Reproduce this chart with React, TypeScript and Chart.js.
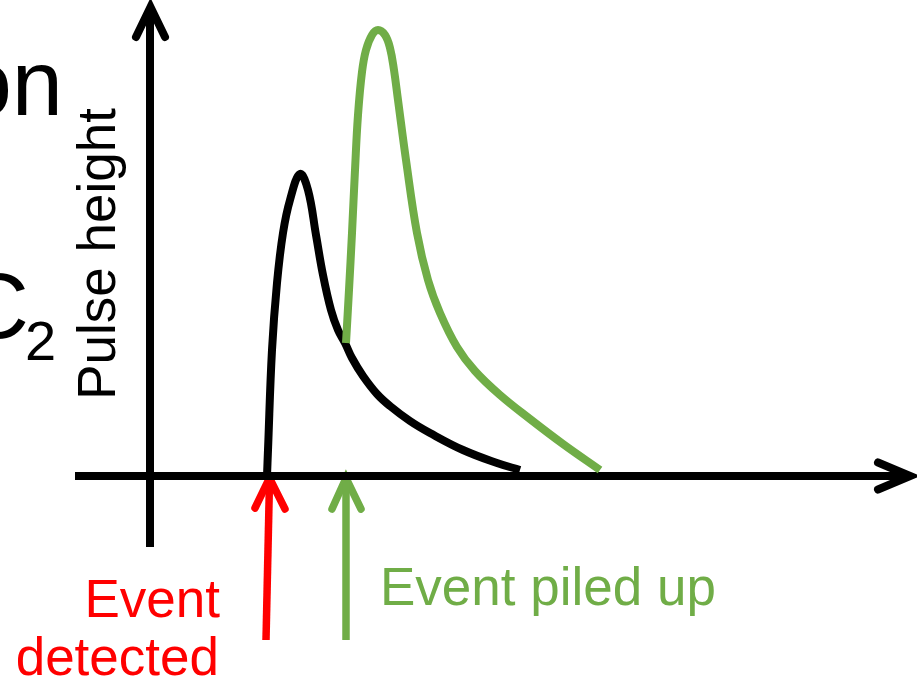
import React, { useEffect, useRef } from "react";
import { Chart, registerables } from "chart.js";

Chart.register(...registerables);

// Time (arbitrary units, origin at the vertical axis) and pulse height values
const blackT = [11.7, 11.8, 12.2, 12.7, 13.3, 14.0, 15.0, 15.8, 16.6, 17.3, 18.1, 18.8, 19.5, 20.2, 21.3, 22.7, 24.0, 26.0, 28.0, 31.3, 34.7, 37.0];
const blackH = [0, 2.6, 12.6, 19.3, 24.3, 27.6, 30.2, 28.6, 24.1, 20.1, 16.6, 14.6, 13.3, 11.8, 10.0, 8.2, 7.0, 5.5, 4.3, 2.6, 1.3, 0.6];

const greenT = [19.6, 19.9, 20.2, 20.5, 20.8, 21.2, 21.6, 22.2, 22.8, 23.5, 24.0, 24.4, 24.8, 25.6, 26.7, 27.8, 29.0, 30.7, 32.5, 35.0, 38.0, 41.3, 45.0];
const greenH = [13.3, 18.6, 24.3, 30.6, 36.1, 40.4, 42.6, 44.1, 44.6, 44.1, 42.8, 40.6, 37.6, 31.6, 24.3, 19.6, 16.3, 12.9, 10.5, 8.1, 5.7, 3.2, 0.6];

// Axes (shaft + arrowhead)
const xAxisT = [-7.5, 75.5];
const xAxisH = [0, 0];
const xHeadT = [72.8, 76.0, 72.8];
const xHeadH = [1.35, 0, -1.35];
const yAxisT = [0, 0];
const yAxisH = [-7.1, 46.5];
const yHeadT = [-1.4, 0.05, 1.5];
const yHeadH = [43.9, 46.9, 43.9];

// Event markers (arrows below the time axis)
const redShaftT = [11.6, 11.95];
const redShaftH = [-16.4, -0.5];
const redHeadT = [10.5, 11.95, 13.5];
const redHeadH = [-3.2, -0.2, -3.3];
const greenShaftT = [19.6, 19.6];
const greenShaftH = [-16.4, -0.5];
const greenHeadT = [18.2, 19.6, 21.1];
const greenHeadH = [-3.3, -0.2, -3.3];

const xMin = -15;
const xMax = 76.7;
const yMin = -21.1;
const yMax = 47.6;

const BLACK = "#000000";
const GREEN = "#70AD47";
const RED = "#FF0000";
const FONT = '"Liberation Sans", Arial, sans-serif';

const pts = (t: number[], h: number[]) => t.map((v, i) => ({ x: v, y: h[i] }));

const textPlugin = {
  id: "slideText",
  afterDraw(chart: any) {
    const ctx = chart.ctx as CanvasRenderingContext2D;
    ctx.save();
    ctx.textBaseline = "alphabetic";

    // cropped slide text on the left
    ctx.fillStyle = BLACK;
    ctx.font = `92px ${FONT}`;
    ctx.textAlign = "right";
    ctx.fillText("on", 63, 115);
    ctx.fillText("C", 29, 338);
    ctx.font = `56px ${FONT}`;
    ctx.textAlign = "left";
    ctx.fillText("2", 25, 360);

    // y axis label
    ctx.save();
    ctx.translate(115, 254);
    ctx.rotate(-Math.PI / 2);
    ctx.font = `53px ${FONT}`;
    ctx.textAlign = "center";
    ctx.fillStyle = BLACK;
    ctx.fillText("Pulse height", 0, 0);
    ctx.restore();

    // event labels
    ctx.font = `53px ${FONT}`;
    ctx.fillStyle = RED;
    ctx.textAlign = "right";
    ctx.fillText("Event", 220, 617);
    ctx.fillText("detected", 219, 675);

    ctx.fillStyle = GREEN;
    ctx.textAlign = "left";
    ctx.fillText("Event piled up", 380, 605);
    ctx.restore();
  },
};

export default function App() {
  const ref = useRef<HTMLCanvasElement | null>(null);

  useEffect(() => {
    if (!ref.current) return;
    const straight = (data: any, color: string, cap: string, width = 7.5) => ({
      data,
      borderColor: color,
      borderWidth: width,
      borderCapStyle: cap,
      borderJoinStyle: "miter",
      pointRadius: 0,
      tension: 0,
      fill: false,
      clip: false,
    });
    const curve = (data: any, color: string) => ({
      data,
      borderColor: color,
      borderWidth: 8,
      borderCapStyle: "butt",
      borderJoinStyle: "round",
      pointRadius: 0,
      tension: 0.4,
      fill: false,
      clip: false,
    });
    const chart = new Chart(ref.current, {
      type: "line",
      data: {
        datasets: [
          curve(pts(greenT, greenH), GREEN),
          curve(pts(blackT, blackH), BLACK),
          straight(pts(xAxisT, xAxisH), BLACK, "butt", 8),
          straight(pts(xHeadT, xHeadH), BLACK, "round", 8),
          straight(pts(yAxisT, yAxisH), BLACK, "butt", 8),
          straight(pts(yHeadT, yHeadH), BLACK, "round", 8),
          straight(pts(redShaftT, redShaftH), RED, "butt"),
          straight(pts(redHeadT, redHeadH), RED, "round"),
          straight(pts(greenShaftT, greenShaftH), GREEN, "butt"),
          straight(pts(greenHeadT, greenHeadH), GREEN, "round"),
        ] as any,
      },
      options: {
        animation: false,
        responsive: false,
        maintainAspectRatio: false,
        devicePixelRatio: 1,
        layout: { padding: 0 },
        plugins: { legend: { display: false }, tooltip: { enabled: false }, title: { display: false } },
        scales: {
          x: { type: "linear", min: xMin, max: xMax, display: false },
          y: { type: "linear", min: yMin, max: yMax, display: false },
        },
      } as any,
      plugins: [textPlugin],
    });
    return () => chart.destroy();
  }, []);

  return (
    <div style={{ position: "fixed", left: 0, top: 0, width: 917, height: 687, background: "#fff" }}>
      <canvas ref={ref} width={917} height={687} style={{ display: "block" }} />
    </div>
  );
}
